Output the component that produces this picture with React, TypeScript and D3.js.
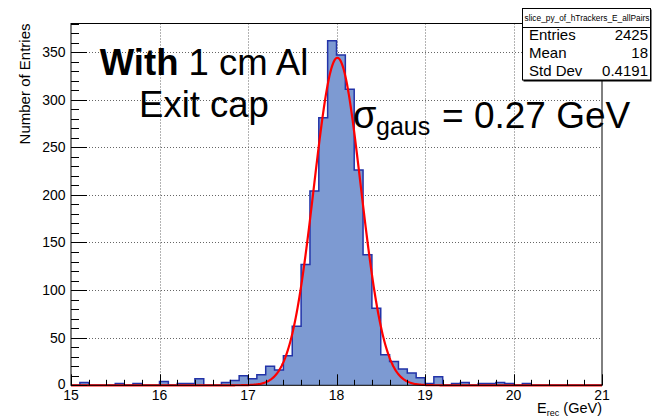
import React from "react";
import * as d3 from "d3";

// ---- Data ----
const binLow = 15;
const binHigh = 21;
const binWidth = 0.1;
// counts per 0.1 GeV bin, 15.0 .. 20.9
const binCounts = [
  0, 3, 0, 0, 0, 2, 0, 2, 0, 0,
  4, 0, 2, 2, 7, 0, 0, 3, 5, 10,
  7, 11, 20, 16, 31, 62, 127, 204, 281, 362,
  347, 311, 226, 137, 81, 32, 25, 17, 13, 8,
  2, 9, 0, 2, 3, 0, 2, 2, 3, 2,
  0, 2, 0, 0, 0, 0, 0, 0, 0, 0,
];
const fitConstant = 344;
const fitMean = 18.01;
const fitSigma = 0.265;

const xMajorTicks = [15, 16, 17, 18, 19, 20, 21];
const yMajorTicks = [0, 50, 100, 150, 200, 250, 300, 350];
const yMax = 380;

const statsTitle = "slice_py_of_hTrackers_E_allPairs";
const statsNames = ["Entries", "Mean", "Std Dev"];
const statsValues = ["2425", "18", "0.4191"];

// ---- Layout ----
const W = 652;
const H = 418;
const L = 71;
const R = 602;
const T = 23.5;
const B = 385.3;
const FONT = "'Liberation Sans', Arial, Helvetica, sans-serif";

export default function App() {
  const x = d3.scaleLinear().domain([binLow, binHigh]).range([L, R]);
  const y = d3.scaleLinear().domain([0, yMax]).range([B, T]);

  // histogram step path
  const pts: [number, number][] = [[x(binLow), y(0)]];
  binCounts.forEach((c, i) => {
    const x0 = binLow + i * binWidth;
    const x1 = x0 + binWidth;
    pts.push([x(x0), y(c)]);
    pts.push([x(x1), y(c)]);
  });
  pts.push([x(binHigh), y(0)]);
  const line = d3.line<[number, number]>();
  const stepPath = line(pts) || "";
  const fillPath = stepPath + "Z";

  // gaussian fit curve
  const fitPts: [number, number][] = d3
    .range(0, 601)
    .map((i) => binLow + (i * (binHigh - binLow)) / 600)
    .map((v) => [
      x(v),
      y(fitConstant * Math.exp(-0.5 * Math.pow((v - fitMean) / fitSigma, 2))),
    ]);
  const fitPath = d3.line<[number, number]>()(fitPts) || "";

  const xMinor = d3.range(0, 31).map((i) => binLow + i * 0.2);
  const yMinor = d3.range(0, yMax + 1, 10);

  return (
    <svg
      width={W}
      height={H}
      style={{ position: "absolute", left: 0, top: 0, background: "#fff" }}
      fontFamily={FONT}
    >
      <rect x={0} y={0} width={W} height={H} fill="#fff" />
      {/* grid */}
      <g stroke="#666" strokeWidth={1} strokeDasharray="1,2">
        {xMajorTicks.slice(1, -1).map((t) => (
          <line key={"gx" + t} x1={Math.round(x(t)) + 0.5} x2={Math.round(x(t)) + 0.5} y1={T} y2={B} />
        ))}
        {yMajorTicks.slice(1).map((t) => (
          <line key={"gy" + t} x1={L} x2={R} y1={Math.round(y(t)) + 0.5} y2={Math.round(y(t)) + 0.5} />
        ))}
      </g>
      {/* histogram */}
      <path d={fillPath} fill="#7d9ad2" stroke="none" />
      <path d={stepPath} fill="none" stroke="#2233a8" strokeWidth={1.5} />
      {/* fit */}
      <path d={fitPath} fill="none" stroke="#ff0000" strokeWidth={2.2} />
      {/* axes ticks */}
      <g stroke="#000" strokeWidth={1}>
        {xMinor.map((t, i) => {
          const major = i % 5 === 0;
          const px = Math.round(x(t)) + 0.5;
          return <line key={"xt" + i} x1={px} x2={px} y1={B} y2={B - (major ? 11 : 5.5)} />;
        })}
        {yMinor.map((t, i) => {
          const major = t % 50 === 0;
          const py = Math.round(y(t)) + 0.5;
          return <line key={"yt" + i} x1={L} x2={L + (major ? 16 : 8)} y1={py} y2={py} />;
        })}
      </g>
      {/* frame */}
      <rect x={L} y={T} width={R - L} height={B - T} fill="none" stroke="#000" strokeWidth={1} />
      {/* tick labels */}
      <g fontSize={14} fill="#000">
        {xMajorTicks.map((t) => (
          <text key={"xl" + t} x={x(t)} y={399.5} textAnchor="middle">
            {t}
          </text>
        ))}
        {yMajorTicks.map((t) => (
          <text key={"yl" + t} x={65.5} y={y(t) + (t === 0 ? 3.5 : 5)} textAnchor="end">
            {t}
          </text>
        ))}
      </g>
      {/* axis titles */}
      <text x={R} y={413} textAnchor="end" fontSize={14.5} fill="#000">
        E<tspan fontSize={9} dy={2.5}>rec</tspan>
        <tspan dy={-2.5}> (GeV)</tspan>
      </text>
      <text
        transform={`translate(29.5,${T}) rotate(-90)`}
        textAnchor="end"
        fontSize={15}
        fill="#000"
      >
        Number of Entries
      </text>
      {/* annotations */}
      <text x={204} y={75} textAnchor="middle" fontSize={36.5} fill="#000">
        <tspan fontWeight="bold">With</tspan> 1 cm Al
      </text>
      <text x={204} y={116.5} textAnchor="middle" fontSize={36.5} fill="#000">
        Exit cap
      </text>
      <text x={353} y={128} fontSize={38} fill="#000">
        σ
      </text>
      <text x={376} y={135} fontSize={25} fill="#000">
        gaus
      </text>
      <text x={442} y={128} fontSize={37} fill="#000">
        = 0.27 GeV
      </text>
      {/* stats box */}
      <rect x={523.5} y={9.5} width={128} height={72} fill="#000" />
      <rect x={522.5} y={8.5} width={128} height={71.5} fill="#fff" stroke="#000" strokeWidth={1} />
      <line x1={522.5} x2={650.5} y1={27.5} y2={27.5} stroke="#000" strokeWidth={1} />
      <text x={587} y={21} textAnchor="middle" fontSize={8.5} fill="#000" textLength={125} lengthAdjust="spacingAndGlyphs">
        {statsTitle}
      </text>
      {statsNames.map((n, i) => (
        <g key={n} fontSize={15} fill="#000">
          <text x={529} y={40 + i * 18}>{n}</text>
          <text x={648} y={40 + i * 18} textAnchor="end">{statsValues[i]}</text>
        </g>
      ))}
    </svg>
  );
}
